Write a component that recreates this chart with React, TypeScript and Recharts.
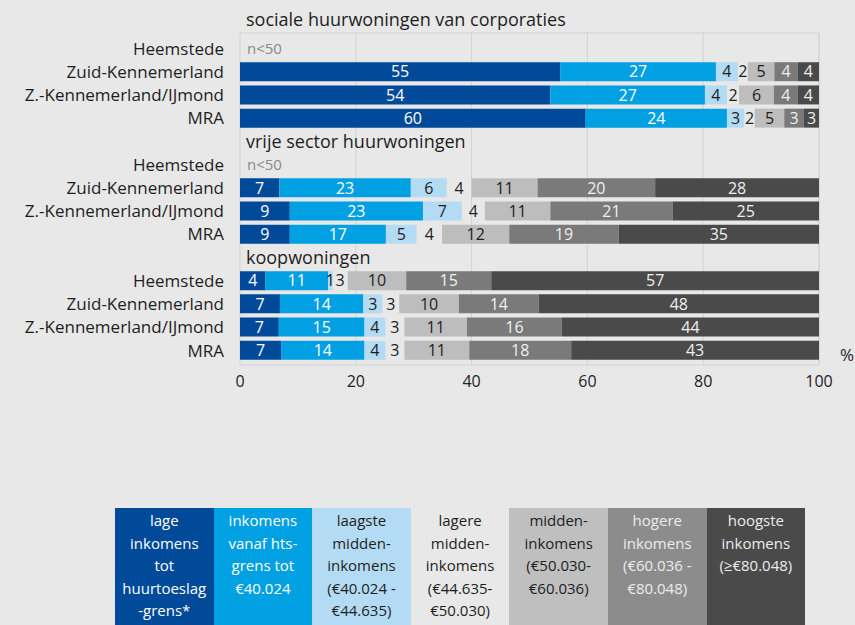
import React from 'react'
import { BarChart, Bar, XAxis, YAxis, CartesianGrid, LabelList } from 'recharts'

const sections = ['sociale huurwoningen van corporaties', 'vrije sector huurwoningen', 'koopwoningen']
const regions = ['Heemstede', 'Zuid-Kennemerland', 'Z.-Kennemerland/IJmond', 'MRA']

const incomeGroups = [
  'lage\ninkomens\ntot\nhuurtoeslag\n-grens*',
  'inkomens\nvanaf hts-\ngrens tot\n€40.024',
  'laagste\nmidden-\ninkomens\n(€40.024 -\n€44.635)',
  'lagere\nmidden-\ninkomens\n(€44.635-\n€50.030)',
  'midden-\ninkomens\n(€50.030-\n€60.036)',
  'hogere\ninkomens\n(€60.036 -\n€80.048)',
  'hoogste\ninkomens\n(≥€80.048)',
]

// shares per region (null = n<50), labels show the rounded value
const sociale = [
  null,
  [55.3, 26.9, 3.8, 1.7, 4.6, 4.0, 3.7],
  [53.6, 26.7, 3.8, 2.1, 6.0, 4.1, 3.7],
  [59.7, 24.4, 3.0, 1.8, 5.1, 3.4, 2.6],
]
const vrijeSector = [
  null,
  [6.8, 22.7, 6.2, 4.3, 11.4, 20.3, 28.3],
  [8.6, 23.0, 6.7, 4.0, 11.3, 21.1, 25.3],
  [8.6, 16.6, 5.3, 4.4, 11.6, 18.9, 34.6],
]
const koop = [
  [4.4, 10.8, 0.8, 2.6, 10.1, 14.7, 56.6],
  [6.9, 14.4, 3.3, 2.9, 10.3, 13.8, 48.4],
  [6.7, 14.8, 3.6, 3.3, 10.8, 16.4, 44.4],
  [7.1, 14.4, 3.6, 3.3, 11.2, 17.6, 42.8],
]

const xTicks = [0, 20, 40, 60, 80, 100]

const barColors = ['#004a99', '#00a0e3', '#b4dbf4', 'rgba(0,0,0,0)', '#bdbdbd', '#7a7a7a', '#4a4a4a']
const labelColors = ['#ffffff', '#ffffff', '#1e1e1e', '#1e1e1e', '#1e1e1e', '#f0f0f0', '#f0f0f0']
const legendColors = ['#004a99', '#00a0e3', '#b4dbf4', '#e8e8e8', '#bfbfbf', '#8c8c8c', '#4a4a4a']
const legendText = ['#ffffff', '#ffffff', '#1e1e1e', '#1e1e1e', '#1e1e1e', '#ececec', '#ececec']

const FONT = '"Open Sans", "Noto Sans", sans-serif'

type Row = { id: string; name: string; kind: 'title' | 'nodata' | 'bar'; [k: string]: any }

const rows: Row[] = []
;[sociale, vrijeSector, koop].forEach((sec, si) => {
  if (si > 0) rows.push({ id: `t${si}`, name: sections[si], kind: 'title' })
  sec.forEach((vals, ri) => {
    const row: Row = { id: `r${si}-${ri}`, name: regions[ri], kind: vals ? 'bar' : 'nodata' }
    if (vals) vals.forEach((v, i) => (row[`g${i}`] = v))
    rows.push(row)
  })
})

const rowById = (id: string) => rows.find(r => r.id === id)

const CategoryTick = ({ y, payload }: any) => {
  const row = rowById(payload.value)
  if (!row) return null
  if (row.kind === 'title') {
    return (
      <text x={246} y={y} dy="0.36em" textAnchor="start" fill="#1e1e1e" fontSize={18} fontFamily={FONT}>
        {row.name}
      </text>
    )
  }
  return (
    <g>
      <text x={224} y={y} dy="0.36em" textAnchor="end" fill="#1e1e1e" fontSize={17} fontFamily={FONT}>
        {row.name}
      </text>
      {row.kind === 'nodata' && (
        <text x={247} y={y} dy="0.36em" textAnchor="start" fill="#8a8a8a" fontSize={15} fontFamily={FONT}>
          n&lt;50
        </text>
      )}
    </g>
  )
}

const makeLabel = (i: number) => (props: any) => {
  const { x, y, width, height, value } = props
  if (value == null) return null
  return (
    <text
      x={(x as number) + (width as number) / 2}
      y={(y as number) + (height as number) / 2}
      dy="0.36em"
      textAnchor="middle"
      fill={labelColors[i]}
      fontSize={16}
      fontFamily={FONT}
    >
      {Math.round(value)}
    </text>
  )
}

export default function App() {
  return (
    <div style={{ position: 'absolute', left: 0, top: 0, width: 855, height: 625, background: '#e8e8e8', fontFamily: FONT, overflow: 'hidden' }}>
      <div style={{ position: 'absolute', left: 246, top: 8, fontSize: 18, color: '#1e1e1e', lineHeight: '23px' }}>
        {sections[0]}
      </div>
      <BarChart
        width={855}
        height={400}
        layout="vertical"
        data={rows}
        margin={{ top: 33, right: 36, left: 0, bottom: 0 }}
        barSize={19}
      >
        <CartesianGrid stroke="#d2d2d2" horizontalPoints={[33, 365]} />
        <XAxis
          type="number"
          domain={[0, 100]}
          ticks={xTicks}
          axisLine={false}
          tickLine={false}
          tickMargin={5}
          height={35}
          tick={{ fontSize: 16, fill: '#222', fontFamily: FONT }}
          label={{
            content: ({ viewBox }: any) => (
              <text x={viewBox.x + viewBox.width + 21} y={viewBox.y - 4} fontSize={17} fill="#222" fontFamily={FONT}>
                %
              </text>
            ),
          }}
        />
        <YAxis
          type="category"
          dataKey="id"
          width={240}
          axisLine={false}
          tickLine={false}
          interval={0}
          padding={{ top: 4, bottom: 3 }}
          tick={<CategoryTick />}
        />
        {barColors.map((c, i) => (
          <Bar key={i} dataKey={`g${i}`} stackId="a" fill={c} isAnimationActive={false}>
            <LabelList dataKey={`g${i}`} content={makeLabel(i)} />
          </Bar>
        ))}
      </BarChart>
      <div style={{ position: 'absolute', left: 115, top: 508, display: 'flex' }}>
        {incomeGroups.map((g, i) => (
          <div
            key={i}
            style={{
              width: 98.6,
              height: 117,
              background: legendColors[i],
              color: legendText[i],
              fontSize: 15,
              lineHeight: '22.5px',
              textAlign: 'center',
              whiteSpace: 'pre-line',
              paddingTop: 1,
              boxSizing: 'border-box',
            }}
          >
            {g}
          </div>
        ))}
      </div>
    </div>
  )
}
